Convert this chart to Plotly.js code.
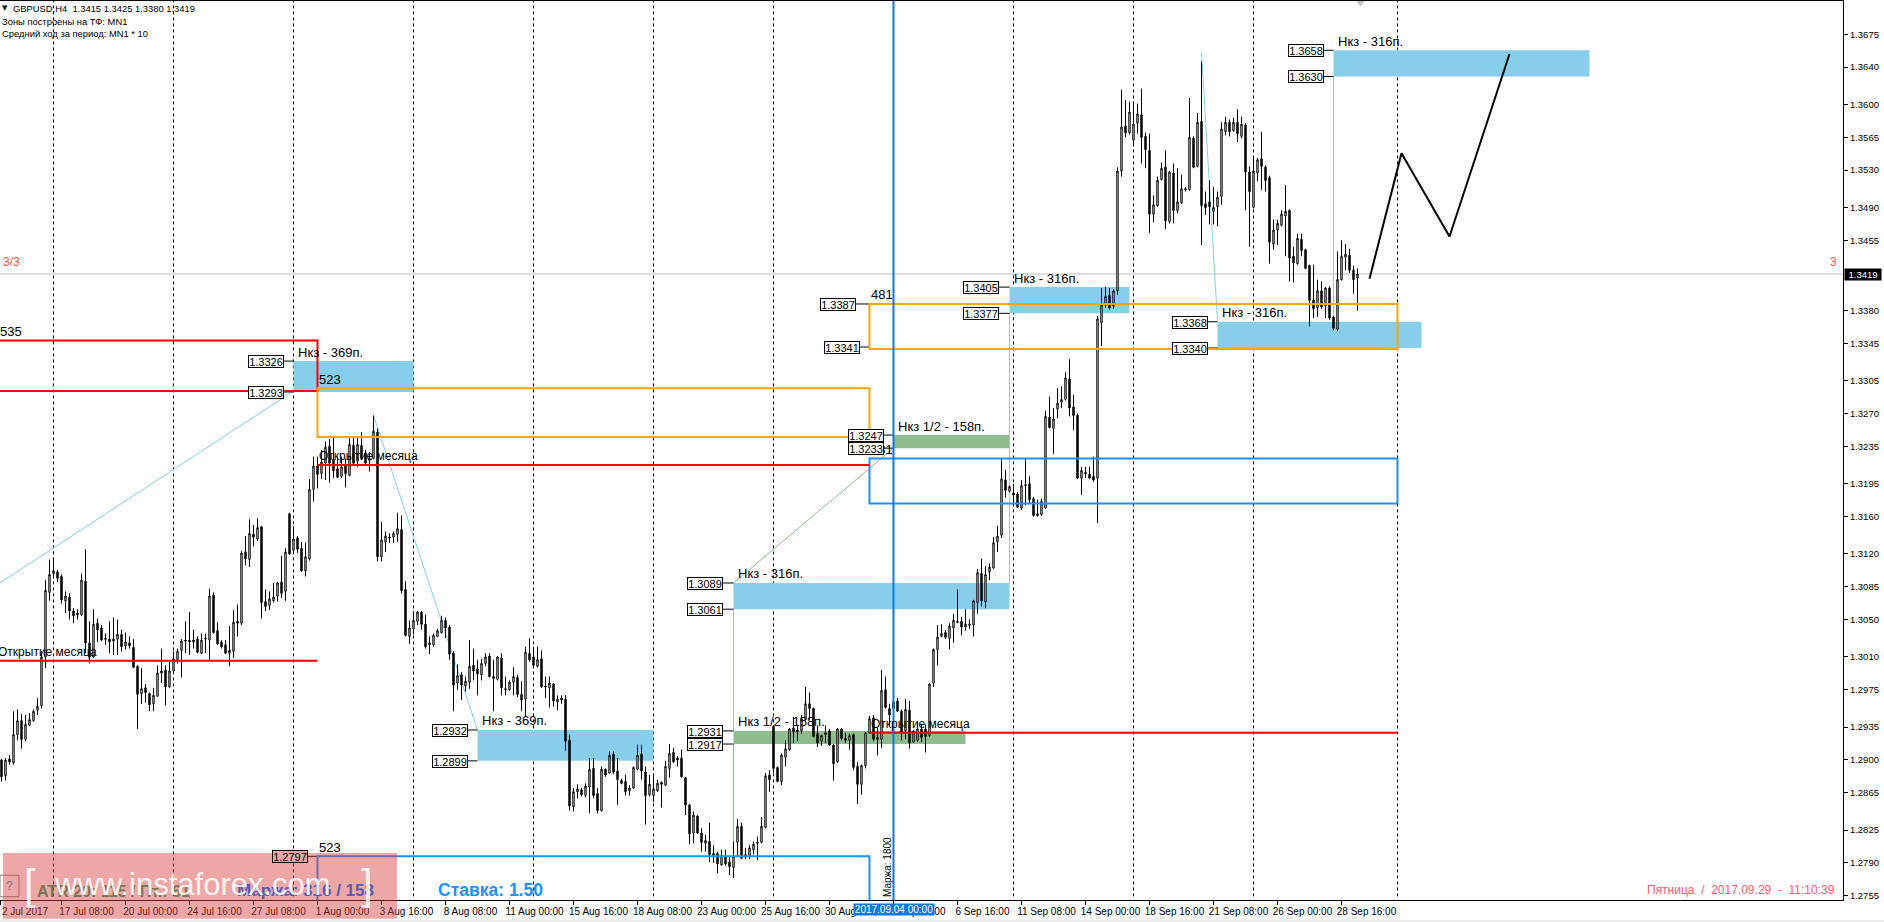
<!DOCTYPE html>
<html><head><meta charset="utf-8">
<script src="https://cdn.plot.ly/plotly-3.0.1.min.js"></script>
<style>html,body{margin:0;padding:0;background:#fff}#c{width:1884px;height:922px}</style></head>
<body><div id="c"></div>
<script>
// GBPUSD H4 candles, prices in 1/10000 units, one bar per entry
const openPips=[12900,12883,12901,12897,12927,12942,12922,12937,12942,12953,
12958,13010,13079,13099,13101,13096,13070,13074,13059,13057,
13055,13091,13025,13010,13046,13041,13030,13029,13029,13029,
13034,13022,13025,13020,13000,12971,12977,12971,12960,12968,
12995,12996,12978,12995,13007,13017,13028,13028,13028,13029,
13014,13029,13028,13076,13038,13026,13023,13014,13016,13048,
13046,13122,13114,13141,13136,13149,13069,13065,13070,13075,
13090,13080,13163,13124,13137,13126,13102,13115,13189,13214,
13206,13217,13235,13221,13211,13203,13214,13204,13236,13219,
13236,13228,13222,13222,13250,13117,13133,13138,13138,13141,
13146,13082,13032,13040,13048,13058,13045,13023,13023,13032,
13036,13049,13042,13014,12982,12991,12979,12983,13001,12997,
12991,13003,13011,12989,12986,13009,12976,12975,12983,12988,
12970,12965,13014,13010,13000,13008,12979,12977,12981,12962,
12966,12965,12921,12850,12866,12868,12862,12871,12891,12864,
12846,12890,12886,12906,12888,12878,12877,12867,12870,12890,
12906,12887,12863,12862,12867,12876,12873,12891,12908,12902,
12902,12881,12852,12822,12840,12822,12811,12813,12800,12800,
12788,12797,12791,12785,12812,12829,12796,12797,12804,12812,
12812,12828,12884,12936,12892,12877,12903,12911,12934,12932,
12931,12943,12960,12955,12928,12920,12927,12931,12916,12898,
12933,12923,12921,12927,12893,12874,12894,12929,12945,12922,
12922,12975,12955,12962,12963,12952,12931,12953,12919,12921,
12933,12933,12926,12982,13018,13032,13036,13030,13041,13048,
13048,13042,13045,13044,13068,13099,13069,13101,13105,13133,
13140,13199,13187,13185,13184,13169,13194,13195,13179,13161,
13162,13169,13266,13254,13275,13282,13285,13307,13277,13268,
13201,13207,13205,13203,13201,13367,13386,13396,13385,13401,
13529,13577,13570,13562,13580,13589,13566,13551,13483,13492,
13520,13533,13475,13527,13487,13495,13510,13509,13564,13534,
13582,13494,13496,13486,13491,13502,13571,13581,13572,13581,
13566,13578,13528,13490,13527,13542,13533,13522,13451,13466,
13471,13481,13487,13438,13430,13456,13445,13428,13391,13383,
13401,13385,13404,13373,13360,13413,13437,13439,13423,13415];
const highPips=[12901,12902,12905,12952,12954,12949,12948,12950,12954,12966,
13016,13092,13114,13115,13103,13098,13080,13078,13062,13061,
13099,13125,13048,13061,13051,13044,13035,13048,13052,13050,
13039,13036,13032,13029,13001,12998,12981,12972,12977,13001,
13019,13001,13005,13016,13019,13029,13048,13058,13039,13032,
13035,13035,13083,13079,13047,13028,13028,13043,13060,13066,
13123,13139,13157,13151,13158,13150,13082,13080,13089,13090,
13118,13126,13164,13150,13139,13133,13132,13200,13224,13224,
13231,13240,13243,13244,13224,13224,13222,13244,13244,13244,
13250,13231,13229,13268,13254,13154,13144,13142,13144,13164,
13161,13091,13049,13059,13059,13059,13055,13032,13035,13040,
13054,13052,13044,13016,13002,12994,12989,13028,13019,13007,
13008,13014,13014,13007,13011,13014,12989,12985,12999,12991,
12984,13021,13030,13021,13021,13017,12989,12989,12982,12969,
12969,12969,12927,12870,12874,12870,12875,12902,12902,12870,
12893,12891,12909,12909,12902,12880,12884,12873,12893,12916,
12916,12893,12884,12884,12879,12877,12899,12917,12913,12904,
12911,12882,12853,12845,12841,12827,12820,12833,12809,12802,
12804,12804,12797,12813,12837,12833,12806,12809,12813,12818,
12839,12886,12889,12937,12893,12907,12921,12934,12946,12937,
12948,12978,12972,12956,12937,12927,12937,12933,12917,12934,
12934,12929,12928,12928,12898,12895,12930,12947,12948,12934,
12996,12989,12960,12966,12966,12954,12965,12963,12932,12940,
12938,12938,12982,13019,13044,13045,13039,13046,13056,13082,
13053,13061,13050,13071,13104,13115,13107,13110,13138,13150,
13222,13210,13193,13195,13186,13199,13222,13203,13181,13178,
13179,13273,13288,13276,13297,13299,13314,13328,13290,13270,
13213,13213,13213,13224,13374,13404,13405,13404,13403,13533,
13616,13605,13603,13603,13601,13617,13570,13569,13503,13523,
13538,13551,13529,13537,13532,13525,13512,13607,13566,13591,
13646,13507,13519,13512,13507,13581,13587,13584,13586,13595,
13587,13580,13534,13543,13543,13571,13535,13524,13477,13477,
13487,13514,13488,13448,13462,13462,13446,13429,13429,13413,
13411,13405,13406,13374,13443,13455,13451,13446,13428,13425];
const lowPips=[12877,12878,12895,12895,12921,12912,12920,12936,12941,12948,
12955,12998,13070,13094,13090,13067,13057,13050,13046,13050,
13054,13014,13003,13009,13026,13027,13023,13014,13012,13012,
13016,13018,13019,12998,12933,12960,12961,12952,12952,12968,
12982,12958,12977,12993,13003,12988,13014,13012,13019,13014,
13013,13014,13007,13035,13023,13019,13013,13000,13009,13032,
13044,13108,13106,13128,13134,13051,13059,13060,13068,13069,
13073,13070,13119,13121,13121,13101,13096,13113,13176,13190,
13200,13199,13196,13201,13201,13201,13191,13203,13215,13213,
13221,13215,13208,13221,13112,13112,13122,13132,13132,13133,
13078,13032,13024,13034,13044,13039,13019,13013,13021,13031,
13035,13030,13007,12952,12975,12964,12973,12976,12985,12969,
12985,13000,12988,12952,12985,12969,12969,12974,12969,12967,
12952,12946,13005,12998,12999,12977,12966,12956,12957,12953,
12960,12910,12846,12845,12859,12861,12860,12843,12859,12843,
12845,12882,12885,12885,12852,12874,12862,12862,12869,12889,
12879,12831,12861,12855,12866,12849,12872,12881,12897,12893,
12881,12841,12810,12811,12821,12802,12802,12791,12790,12779,
12787,12787,12777,12774,12797,12794,12794,12794,12799,12793,
12811,12827,12866,12886,12876,12873,12893,12910,12918,12920,
12928,12942,12943,12924,12914,12915,12918,12915,12878,12897,
12921,12918,12911,12889,12853,12863,12891,12928,12920,12905,
12913,12955,12937,12953,12951,12921,12922,12912,12918,12919,
12919,12908,12925,12978,13001,13031,13029,13018,13025,13046,
13033,13038,13040,13032,13056,13064,13062,13092,13104,13122,
13137,13180,13186,13174,13169,13167,13172,13174,13160,13160,
13161,13168,13254,13227,13265,13276,13284,13267,13252,13200,
13183,13201,13200,13197,13153,13342,13383,13381,13382,13397,
13523,13565,13568,13556,13569,13537,13532,13463,13474,13491,
13519,13467,13473,13473,13484,13494,13507,13508,13532,13533,
13450,13482,13472,13472,13470,13493,13567,13566,13571,13560,
13564,13487,13448,13489,13518,13509,13507,13430,13445,13450,
13470,13438,13411,13410,13429,13438,13424,13363,13372,13373,
13382,13372,13370,13359,13358,13412,13423,13420,13398,13380];
const closePips=[12882,12900,12898,12927,12942,12922,12938,12943,12952,12957,
13010,13081,13098,13102,13094,13071,13075,13059,13054,13055,
13092,13025,13010,13045,13039,13028,13029,13026,13027,13034,
13021,13026,13022,12999,12970,12976,12972,12959,12969,12993,
12993,12978,12995,13008,13016,13027,13027,13026,13026,13015,
13028,13030,13075,13036,13024,13021,13014,13017,13047,13046,
13121,13115,13142,13138,13148,13068,13064,13072,13074,13089,
13078,13122,13120,13136,13125,13102,13117,13189,13214,13205,
13218,13234,13217,13209,13202,13213,13206,13237,13217,13237,
13222,13217,13220,13251,13117,13135,13139,13137,13142,13147,
13081,13033,13041,13049,13058,13045,13021,13025,13033,13038,
13049,13041,13013,12980,12990,12980,12984,13000,12995,12992,
13003,13010,12989,12987,13010,12977,12975,12983,12989,12970,
12964,13015,13007,13001,13007,12978,12978,12982,12963,12965,
12964,12920,12851,12866,12869,12863,12872,12890,12862,12846,
12890,12884,12905,12887,12879,12875,12866,12870,12892,12905,
12888,12862,12874,12869,12875,12874,12893,12907,12898,12900,
12882,12852,12821,12841,12822,12812,12814,12799,12798,12789,
12798,12789,12786,12797,12829,12795,12799,12806,12810,12811,
12829,12883,12879,12891,12877,12905,12912,12933,12930,12930,
12944,12960,12955,12925,12918,12926,12929,12916,12896,12933,
12923,12921,12926,12892,12874,12894,12929,12944,12922,12924,
12974,12956,12948,12955,12952,12930,12954,12918,12931,12933,
12924,12925,12981,13018,13031,13035,13031,13043,13049,13047,
13042,13045,13044,13070,13100,13070,13098,13106,13132,13139,
13200,13188,13192,13183,13170,13193,13193,13178,13161,13163,
13176,13267,13255,13264,13281,13285,13308,13276,13268,13201,
13209,13206,13201,13199,13371,13386,13395,13383,13401,13529,
13576,13570,13592,13579,13590,13565,13552,13483,13493,13519,
13532,13476,13528,13487,13496,13510,13509,13565,13533,13581,
13492,13490,13491,13490,13501,13574,13581,13571,13581,13569,
13579,13528,13507,13529,13541,13534,13519,13453,13466,13473,
13483,13486,13436,13431,13457,13444,13425,13391,13382,13401,
13384,13404,13372,13361,13413,13438,13440,13423,13413,13419];

// Axis labels
const priceTicks=[1.3675,1.3640,1.3600,1.3565,1.3530,1.3490,1.3455,1.3380,1.3345,1.3305,1.3270,1.3235,1.3195,1.3160,1.3120,1.3085,1.3050,1.3010,1.2975,1.2935,1.2900,1.2865,1.2825,1.2790,1.2755];
const timeBars=[-0.375,15,31,47,63,79,95,111,127,143,159,175,191,207,223,239,255,271,287,303,319,335];
const timeLabels=['2 Jul 2017','17 Jul 08:00','20 Jul 00:00','24 Jul 16:00','27 Jul 08:00','1 Aug 00:00','3 Aug 16:00','8 Aug 08:00','11 Aug 00:00','15 Aug 16:00','18 Aug 08:00','23 Aug 00:00','25 Aug 16:00','30 Aug 08:00','4 Sep 00:00','6 Sep 16:00','11 Sep 08:00','14 Sep 00:00','18 Sep 16:00','21 Sep 08:00','26 Sep 00:00','28 Sep 16:00'];
const separatorBars=[13,43,73,103,133,163,193,223,253,283,313,349];

// Zones: start bar, end bar, top, bottom, label
const zoneStart=[73,119,183,252,304,333,223,183];
const zoneEnd=[103,163,252,282,355,397,252,241];
const zoneTop=[1.3326,1.2932,1.3089,1.3405,1.3368,1.3658,1.3247,1.2931];
const zoneBottom=[1.3293,1.2899,1.3061,1.3377,1.3340,1.3630,1.3233,1.2917];
const zoneColor=['#87ceeb','#87ceeb','#87ceeb','#87ceeb','#87ceeb','#87ceeb','#8fbc8f','#8fbc8f'];
const zoneLabel=['Нкз - 369п.','Нкз - 369п.','Нкз - 316п.','Нкз - 316п.','Нкз - 316п.','Нкз - 316п.','Нкз 1/2 - 158п.','Нкз 1/2 - 158п.'];
// Boxed price tags: text, right edge bar, level, bar the stub reaches
const tagText=['1.3326','1.3293','1.2932','1.2899','1.3089','1.3061','1.2931','1.2917','1.3405','1.3377','1.3247','1.3233','1.3387','1.3341','1.3368','1.3340','1.3658','1.3630','1.2797'];
const tagBar=[70.55,70.55,116.55,116.55,180.4,180.4,180.4,180.4,249.4,249.4,220.5,220.5,213.5,214.5,301.55,301.55,330.5,330.5,76.6];
const tagStub=[73,73,119,119,183,183,183,183,252,252,223,223,217,217,304,304,333,333,79];

// Outlined month ranges
const rectStart=[-5,79,217,79,217];
const rectEnd=[79,217,349,217,349];
const rectTop=[1.3348,1.3297,1.3387,1.2797,1.3222];
const rectBottom=[1.3294,1.3245,1.3339,1.2745,1.3174];
const rectColor=['#ff0000','#ffa500','#ffa500','#1e90ff','#1e90ff'];
const rectSize=['535','523','481','523','481'];
// Month-open lines
const openStart=[-5,79,217], openEnd=[79,217,349], openLevel=[1.3006,1.3215,1.2929];
// Thin guide lines
const guideBars=[[-0.4,73],[93,119],[183,183],[183,183],[183,223],[252,252],[300,304],[333,333]];
const guidePrices=[[1.3089,1.3294],[1.3268,1.2932],[1.2931,1.3061],[1.2774,1.2917],[1.3089,1.3233],[1.3089,1.3377],[1.3656,1.3369],[1.3360,1.3630]];
const guideColor=['#87ceeb','#87ceeb','#87ceeb','#8fbc8f','#8fbc8f','#87ceeb','#87ceeb','#87ceeb'];
// Forecast path
const pathBars=[342,350,362,377], pathPrices=[1.3414,1.3548,1.3459,1.3654];
const lastPrice=1.3419, markerBar=223;
const shiftBar=[339.75], shiftPrice=[1.37095];

const F='"Liberation Sans", Arial, sans-serif';
const bars=openPips.map((_,i)=>i);
const toPrice=a=>a.map(v=>v/10000);
const shapes=[];
// below the candles
zoneStart.forEach((s,i)=>shapes.push({type:'rect',layer:'below',x0:s,x1:zoneEnd[i],y0:zoneBottom[i],y1:zoneTop[i],fillcolor:zoneColor[i],line:{width:0}}));
shapes.push({type:'line',layer:'below',xref:'paper',x0:0,x1:1,y0:lastPrice,y1:lastPrice,line:{color:'#c0c0c0',width:1}});
separatorBars.forEach(b=>shapes.push({type:'line',layer:'below',yref:'paper',x0:b,x1:b,y0:0.004,y1:1,line:{color:'#000',width:1,dash:'3px,3px'}}));
guideBars.forEach((g,i)=>shapes.push({type:'line',layer:'below',x0:g[0],x1:g[1],y0:guidePrices[i][0],y1:guidePrices[i][1],line:{color:guideColor[i],width:1}}));
tagBar.forEach((b,i)=>{const p=parseFloat(tagText[i]);shapes.push({type:'line',layer:'below',x0:b,x1:tagStub[i],y0:p,y1:p,line:{color:'#000',width:1}})});
// above the candles
rectStart.forEach((s,i)=>shapes.push({type:'rect',layer:'above',x0:s,x1:rectEnd[i],y0:rectBottom[i],y1:rectTop[i],line:{color:rectColor[i],width:2},fillcolor:'rgba(0,0,0,0)'}));
openLevel.forEach((l,i)=>shapes.push({type:'line',layer:'above',x0:openStart[i],x1:openEnd[i],y0:l,y1:l,line:{color:'#ff0000',width:2}}));
shapes.push({type:'line',layer:'above',yref:'paper',x0:markerBar,x1:markerBar,y0:0,y1:1,line:{color:'#0a78e8',width:2}});
// bottom strip and watermark plate
shapes.push({type:'rect',layer:'above',xref:'paper',yref:'paper',x0:0,x1:1.0223,y0:-0.0245,y1:-0.0222,fillcolor:'#ececec',line:{width:0}});
shapes.push({type:'rect',layer:'above',xref:'paper',yref:'paper',x0:0,x1:0.0103,y0:0.0037,y1:0.0275,fillcolor:'#ffffff',line:{color:'#888',width:1}});
shapes.push({type:'rect',layer:'above',xref:'paper',yref:'paper',x0:0.0016,x1:0.2154,y0:-0.0208,y1:0.0523,fillcolor:'rgba(214,60,60,0.45)',line:{width:0}});

const ann=[];
const txt=(text,x,y,o)=>ann.push(Object.assign({text,x,y,xref:'x',yref:'y',xanchor:'left',yanchor:'middle',showarrow:false,font:{family:F,size:12,color:'#000'}},o||{}));
const paperY=p=>(900-p)/899, paperX=p=>p/1843;
zoneStart.forEach((s,i)=>txt(zoneLabel[i],s,zoneTop[i],{xshift:2,yshift:9,font:{family:F,size:13,color:'#000'}}));
rectStart.forEach((s,i)=>txt(rectSize[i],i==0?-0.375:s,rectTop[i],{xshift:i==0?-2:-1,yshift:9,font:{family:F,size:13,color:'#000'}}));
openLevel.forEach((l,i)=>txt('Открытие месяца',i==0?-0.375:openStart[i],l,{xshift:i==0?-4:-1,yshift:9}));
tagText.forEach((t,i)=>txt(t,tagBar[i],parseFloat(t),{xanchor:'right',width:34,height:11,borderpad:0,bordercolor:'#000',borderwidth:1,
  bgcolor:t==='1.2797'?'#eba7a7':'#fff',font:{family:F,size:11,color:'#000'},align:'center',yshift:-0.5}));
const pap=(text,px,py,o)=>ann.push(Object.assign({text,x:paperX(px),y:paperY(py),xref:'paper',yref:'paper',xanchor:'left',yanchor:'middle',showarrow:false,font:{family:F,size:9.4,color:'#000'}},o||{}));
pap('▼',0,8,{font:{family:'DejaVu Sans',size:7,color:'#000'}});
pap('GBPUSD,H4&nbsp; 1.3415 1.3425 1.3380 1.3419',11,8.3);
pap('Зоны построены на ТФ: MN1',0,21.7);
pap('Средний ход за период: MN1 * 10',0,33.3);
pap('3/3',0.5,262,{font:{family:F,size:12,color:'#ff5a3c'}});
pap('3',1833.5,262,{xanchor:'center',font:{family:F,size:12,color:'#ff5a3c'}});
pap('1.3419',1844,274.7,{width:36,height:11,borderpad:0,bgcolor:'#000',align:'center',font:{family:F,size:9.5,color:'#fff'}});
pap('?',9.5,886,{xanchor:'center',font:{family:F,size:12,color:'#777'}});
pap('ATR 20: 115 / Пт.: 61',35,891,{font:{family:F,size:16,color:'#777755',weight:700}});
pap('Маржа: 316 / 158',235,890,{font:{family:F,size:17,color:'#5a5ab4',weight:700}});
pap('Ставка: 1.50',436,890,{font:{family:F,size:17.5,color:'#1e90ff',weight:700}});
pap('Пятница&nbsp; /&nbsp; 2017.09.29&nbsp; -&nbsp; 11:10:39',1836.6,890.3,{xanchor:'right',font:{family:F,size:12,color:'#ff5a70'}});
pap('[',22,884,{font:{family:F,size:42,color:'rgba(255,255,255,0.88)'}});
pap('www.instaforex.com',52,884,{font:{family:F,size:31,color:'rgba(255,255,255,0.88)'}});
pap(']',375,884,{xanchor:'right',font:{family:F,size:42,color:'rgba(255,255,255,0.88)'}});
ann.push({text:'Маржа: 1800',x:markerBar,y:paperY(867.5),xref:'x',yref:'paper',xanchor:'center',yanchor:'middle',xshift:-6,textangle:-90,showarrow:false,font:{family:F,size:10,color:'#000'}});
ann.push({text:'2017.09.04 00:00',x:markerBar,y:paperY(909.6),xref:'x',yref:'paper',xanchor:'center',yanchor:'middle',showarrow:false,width:80,height:11,borderpad:0,bgcolor:'#0a78e8',font:{family:F,size:10,color:'#fff'}});

const data=[{
  type:'candlestick',x:bars,open:toPrice(openPips),high:toPrice(highPips),low:toPrice(lowPips),close:toPrice(closePips),
  increasing:{line:{color:'#000',width:1},fillcolor:'#fff'},decreasing:{line:{color:'#000',width:1},fillcolor:'#000'},
  whiskerwidth:0,hoverinfo:'skip',showlegend:false
},{
  type:'scatter',mode:'lines',x:pathBars,y:pathPrices,line:{color:'#000',width:2},hoverinfo:'skip',showlegend:false
},{
  type:'scatter',mode:'markers',x:shiftBar,y:shiftPrice,marker:{symbol:'triangle-down',size:9,color:'#c4c4c4',line:{width:0}},hoverinfo:'skip',showlegend:false
}];
const layout={
  width:1884,height:922,margin:{l:0,r:41,t:1,b:22,pad:0},paper_bgcolor:'#fff',plot_bgcolor:'#fff',showlegend:false,
  font:{family:F,color:'#000'},dragmode:false,boxgap:0.5,
  xaxis:{type:'linear',range:[-0.375,460.375],rangeslider:{visible:false},showgrid:false,zeroline:false,showline:true,linecolor:'#000',linewidth:1,mirror:true,
    tickmode:'array',tickvals:timeBars,ticktext:timeLabels,ticks:'outside',ticklen:4,tickcolor:'#000',tickfont:{family:F,size:10,color:'#000'},ticklabelshift:25,ticklabelstandoff:-2,tickangle:0,automargin:false},
  yaxis:{type:'linear',side:'right',range:[1.27504,1.37106],showgrid:false,zeroline:false,showline:true,linecolor:'#000',linewidth:1,
    tickmode:'array',tickvals:priceTicks,ticktext:priceTicks.map(v=>v.toFixed(4)),ticks:'outside',ticklen:4,tickcolor:'#000',tickfont:{family:F,size:9.5,color:'#000'},automargin:false},
  shapes,annotations:ann
};
Plotly.newPlot('c',data,layout,{displayModeBar:false,staticPlot:true});
</script></body></html>
